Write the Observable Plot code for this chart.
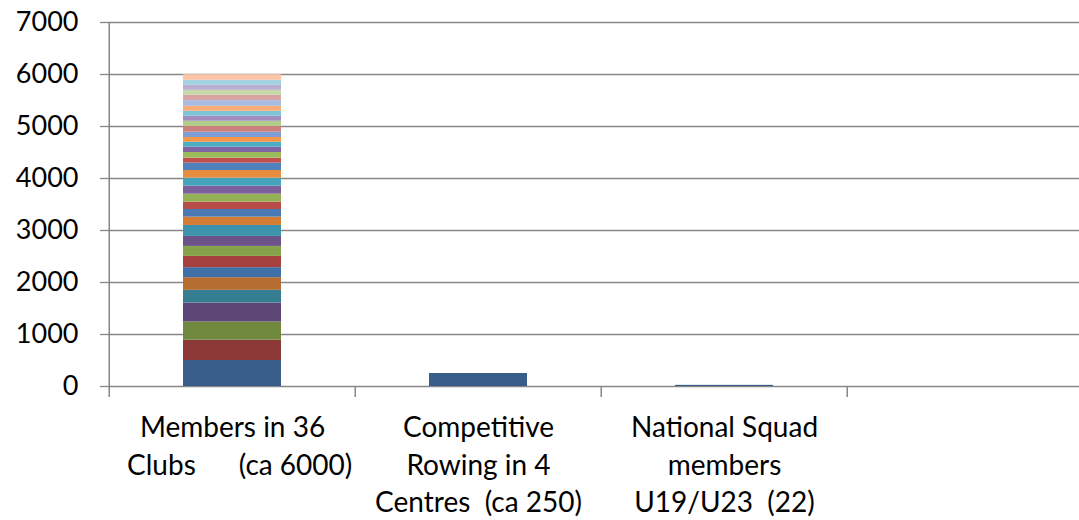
<!DOCTYPE html>
<html>
<head>
<meta charset="utf-8">
<script src="https://cdn.jsdelivr.net/npm/d3@7"></script>
<script src="https://cdn.jsdelivr.net/npm/@observablehq/plot@0.6"></script>
<style>
  html, body { margin: 0; padding: 0; background: #fff; }
  svg { white-space: pre; }
</style>
</head>
<body>
<div id="chart"></div>
<script>
// ---- data ----
const categories = [
  "Members in 36 Clubs (ca 6000)",
  "Competitive Rowing in 4 Centres (ca 250)",
  "National Squad members U19/U23 (22)",
  " "
];
const categoryLabels = [
  "Members in 36\n  Clubs      (ca 6000)",
  "Competitive\nRowing in 4\nCentres  (ca 250)",
  "National Squad\nmembers\nU19/U23  (22)",
  ""
];
// members of each of the 36 clubs, bottom to top of the stack
const clubMembers = [500, 390, 350, 365, 244, 244, 192, 217, 192, 192, 211, 160,
                     147, 141, 154, 154, 154, 147, 141, 96, 109, 102, 96, 90,
                     102, 109, 102, 96, 96, 96, 109, 102, 96, 96, 96, 109];
const centreRowers = [250];
const squadMembers = [22];
const yTicks = [0, 1000, 2000, 3000, 4000, 5000, 6000, 7000];
const seriesColors = [
  "#385d8a", "#8c3836", "#71893f", "#5c4776", "#357d91", "#b66d31",
  "#4070a8", "#a5423f", "#86a34b", "#6b5389", "#3c93ab", "#d27c34",
  "#4a7ab5", "#b84c49", "#93b054", "#7a5f9b", "#46a3bc", "#e88d3f",
  "#4f81bd", "#c0504d", "#9bbb59", "#8064a2", "#4bacc6", "#f79646",
  "#7c9ed2", "#cd7f7d", "#b3cb88", "#a18ebe", "#7fc3d6", "#f9ad79",
  "#a8bce1", "#d9a4a3", "#c7d9a8", "#b9aed1", "#a6d3e1", "#fbc4a6"
];

// ---- table for the library ----
const rows = [];
clubMembers.forEach((v, i) => rows.push({category: categories[0], series: i, value: v}));
centreRowers.forEach((v, i) => rows.push({category: categories[1], series: i, value: v}));
squadMembers.forEach((v, i) => rows.push({category: categories[2], series: i, value: v}));

const W = 1079, H = 520;
const mLeft = 108, mTop = 22, mBottom = 134;
const xRange = [mLeft, 1094];
const step = (xRange[1] - xRange[0]) / categories.length;
const axisGray = "#878787";
const font = "Lato, 'Open Sans', sans-serif";
const fsY = 27, fsX = 28;

const chart = Plot.plot({
  width: W,
  height: H,
  marginLeft: mLeft,
  marginRight: 0,
  marginTop: mTop,
  marginBottom: mBottom,
  style: {fontFamily: font, fontSize: fsY + "px", color: "#000", background: "#fff", whiteSpace: "pre"},
  x: {domain: categories, range: xRange, paddingInner: 0.6, paddingOuter: 0.3, align: 0.5, label: null},
  y: {domain: [0, 7000], label: null},
  color: {type: "identity"},
  marks: [
    Plot.gridY(yTicks, {stroke: axisGray, strokeOpacity: 1, strokeWidth: 1.3}),
    Plot.barY(rows, Plot.stackY({
      x: "category", y: "value", z: "series",
      fill: d => seriesColors[d.series], order: null
    })),
    Plot.ruleX([categories[0]], {y1: 0, y2: 7000, dx: -step / 2, stroke: axisGray, strokeWidth: 1.5}),
    Plot.axisX({ticks: categories, text: null, tickSize: 11, dx: -step / 2, stroke: axisGray, strokeWidth: 1.5}),
    Plot.axisX({
      ticks: categories, tickSize: 0, tickPadding: 24, label: null,
      tickFormat: d => categoryLabels[categories.indexOf(d)],
      fontSize: fsX, lineHeight: 1.34, fill: "#000"
    }),
    Plot.axisY({
      ticks: yTicks, tickSize: 8, tickPadding: 22, label: null,
      tickFormat: d => String(d), fontSize: fsY, stroke: axisGray, strokeWidth: 1.3, fill: "#000"
    })
  ]
});
document.getElementById("chart").appendChild(chart);
</script>
</body>
</html>
